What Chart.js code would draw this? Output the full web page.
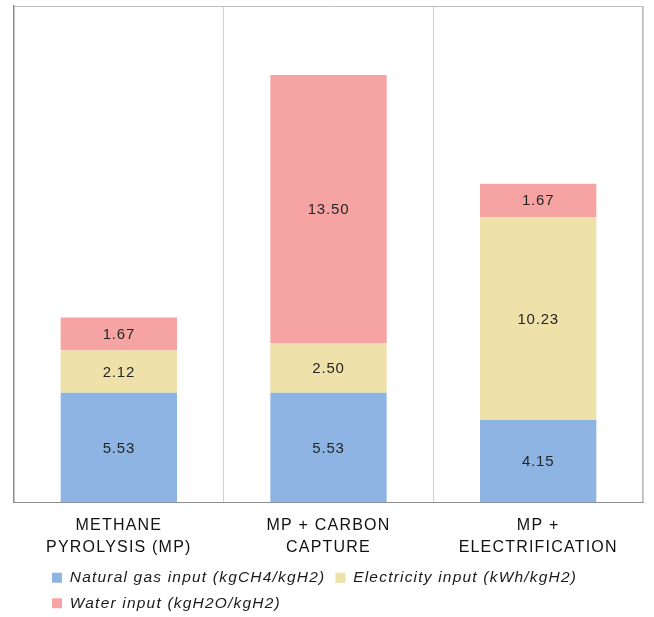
<!DOCTYPE html>
<html>
<head>
<meta charset="utf-8">
<script src="https://cdn.jsdelivr.net/npm/chart.js@4"></script>
<style>
  html, body { margin: 0; padding: 0; background: #fff; }
  #wrap { width: 654px; height: 617px; }
</style>
</head>
<body>
<div id="wrap"><canvas id="myChart"></canvas></div>
<script>
const categories = [
  ['METHANE', 'PYROLYSIS (MP)'],
  ['MP + CARBON', 'CAPTURE'],
  ['MP +', 'ELECTRIFICATION']
];
const naturalGas = [5.53, 5.53, 4.15];
const electricity = [2.12, 2.50, 10.23];
const water = [1.67, 13.50, 1.67];

const SPACING = '1.2px';

// the original has slightly spaced-out lettering everywhere
const spacingPlugin = {
  id: 'spacing',
  beforeUpdate(chart) { chart.ctx.letterSpacing = SPACING; },
  beforeLayout(chart) { chart.ctx.letterSpacing = SPACING; },
  beforeDraw(chart) { chart.ctx.letterSpacing = SPACING; },
  afterLayout(chart) {
    // legend rows start further in than chart.js would put them
    chart.legend.left += 28;
  }
};

const frameAndLabels = {
  id: 'frameAndLabels',
  beforeDatasetsDraw(chart) {
    const {ctx, chartArea: a} = chart;
    ctx.save();
    ctx.strokeStyle = '#bdbdbd';
    ctx.lineWidth = 1;
    ctx.beginPath();
    ctx.moveTo(a.left, a.top + 0.5);
    ctx.lineTo(a.right - 0.5, a.top + 0.5);
    ctx.lineTo(a.right - 0.5, a.bottom);
    ctx.stroke();
    ctx.restore();
  },
  afterDatasetsDraw(chart) {
    const ctx = chart.ctx;
    ctx.save();
    ctx.letterSpacing = '0.8px';
    ctx.font = '15px "Liberation Sans", Arial, sans-serif';
    ctx.fillStyle = '#262626';
    ctx.textAlign = 'center';
    ctx.textBaseline = 'middle';
    chart.data.datasets.forEach((ds, i) => {
      chart.getDatasetMeta(i).data.forEach((bar, j) => {
        ctx.fillText(ds.data[j].toFixed(2), bar.x, (bar.y + bar.base) / 2 + 1);
      });
    });
    ctx.restore();
  }
};

const ctx = document.getElementById('myChart').getContext('2d');
Chart.defaults.font.family = '"Liberation Sans", Arial, sans-serif';
Chart.defaults.color = '#1a1a1a';

const myChart = new Chart(ctx, {
  type: 'bar',
  data: {
    labels: categories,
    datasets: [
      { label: 'Natural gas input (kgCH4/kgH2)', data: naturalGas, backgroundColor: '#8EB4E3' },
      { label: 'Electricity input (kWh/kgH2)', data: electricity, backgroundColor: '#EEE1AA' },
      { label: 'Water input (kgH2O/kgH2)', data: water, backgroundColor: '#F6A3A3' }
    ]
  },
  options: {
    responsive: true,
    maintainAspectRatio: false,
    animation: false,
    categoryPercentage: 1,
    barPercentage: 0.555,
    layout: { padding: { left: 14, right: 11, top: 6, bottom: -4 } },
    scales: {
      x: {
        stacked: true,
        grid: { offset: true, color: '#d0d0d0', drawTicks: false },
        border: { color: '#8c8c8c' },
        ticks: {
          padding: 12,
          color: '#111',
          font: { size: 16, lineHeight: 1.375 }
        },
        afterFit(scale) { scale.height = 57.5; }
      },
      y: {
        stacked: true,
        min: 0,
        max: 25,
        grid: { display: false, drawTicks: false },
        border: { display: true, color: '#8c8c8c', width: 1.5 },
        ticks: { display: false }
      }
    },
    plugins: {
      tooltip: { enabled: false },
      legend: {
        position: 'bottom',
        align: 'start',
        labels: {
          boxWidth: 10,
          boxHeight: 10,
          padding: 10,
          color: '#1a1a1a',
          font: { size: 15.5, style: 'italic' }
        }
      }
    }
  },
  plugins: [spacingPlugin, frameAndLabels]
});
</script>
</body>
</html>
